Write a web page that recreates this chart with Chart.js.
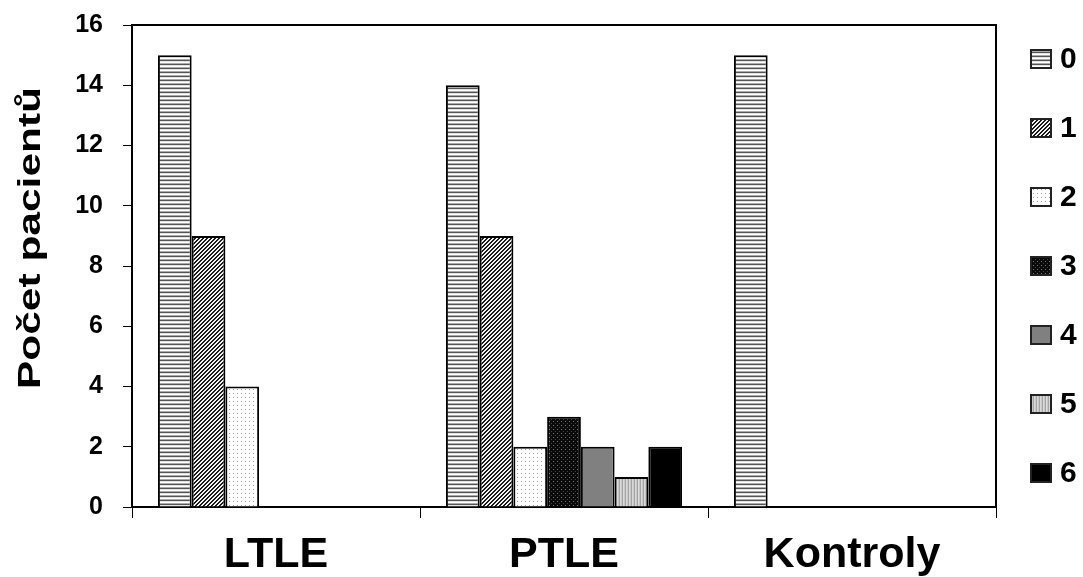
<!DOCTYPE html>
<html>
<head>
<meta charset="utf-8">
<script src="https://cdn.jsdelivr.net/npm/chart.js@4"></script>
<style>
  body { margin: 0; background: #fff; }
  #wrap { width: 1083px; height: 577px; }
</style>
</head>
<body>
<div id="wrap"><canvas id="graf"></canvas></div>
<script>
// Data
const kategorie = ['LTLE', 'PTLE', 'Kontroly'];
const skupiny = ['0', '1', '2', '3', '4', '5', '6'];
const hodnoty0 = [15, 14, 15];
const hodnoty1 = [9, 9, 0];
const hodnoty2 = [4, 2, 0];
const hodnoty3 = [0, 3, 0];
const hodnoty4 = [0, 2, 0];
const hodnoty5 = [0, 1, 0];
const hodnoty6 = [0, 2, 0];
const yTicks = [0, 2, 4, 6, 8, 10, 12, 14, 16];
const osaY = 'Počet pacientů';

const FONT = "Arial, 'Liberation Sans', sans-serif";

// Vytvori vzor (pattern) z malych pixelu
function vzor(w, h, fn) {
    const c = document.createElement('canvas');
    c.width = w; c.height = h;
    const g = c.getContext('2d');
    for (let y = 0; y < h; y++) {
        for (let x = 0; x < w; x++) {
            g.fillStyle = fn(x, y);
            g.fillRect(x, y, 1, 1);
        }
    }
    return g.createPattern(c, 'repeat');
}

const ctx = document.getElementById('graf').getContext('2d');

const vzory = [
    vzor(4, 4, (x, y) => ['#555', '#e4e4e4', '#fff', '#aaa'][y]),          // vodorovne cary
    vzor(4, 4, (x, y) => ((x + y) % 4 < 2 ? '#1a1a1a' : '#f4f4f4')),      // sikme cary
    vzor(4, 4, (x, y) => (x === 1 && y === 1 ? '#999' : '#fff')),         // tecky
    vzor(4, 4, (x, y) => (x === 1 && y === 1 ? '#777' : (x === 3 && y === 3 ? '#444' : '#0a0a0a'))),
    '#808080',
    vzor(3, 1, (x) => ['#c8c8c8', '#a4a4a4', '#dadada'][x]),              // svisle cary
    '#000000'
];

const vsechnyHodnoty = [hodnoty0, hodnoty1, hodnoty2, hodnoty3, hodnoty4, hodnoty5, hodnoty6];

const datasets = skupiny.map((s, i) => ({
    label: s,
    data: vsechnyHodnoty[i],
    backgroundColor: vzory[i],
    borderColor: '#000',
    borderWidth: 2,
    barPercentage: 1.0,
    categoryPercentage: 0.82
}));

// Ramecek kolem grafu (horni a prava hrana)
const ramecek = {
    id: 'ramecek',
    afterDatasetsDraw(chart) {
        const a = chart.chartArea;
        const c = chart.ctx;
        c.save();
        c.strokeStyle = '#000';
        c.lineWidth = 2;
        c.beginPath();
        c.moveTo(a.left, a.top);
        c.lineTo(a.right, a.top);
        c.lineTo(a.right, a.bottom);
        c.stroke();
        c.restore();
    }
};

// Legenda vpravo + popisek osy Y
const legenda = {
    id: 'legenda',
    afterDraw(chart) {
        const c = chart.ctx;
        c.save();
        chart.data.datasets.forEach((ds, i) => {
            const y = 59 + i * 69;
            c.fillStyle = ds.backgroundColor;
            c.fillRect(1031, y - 9, 20, 18);
            c.strokeStyle = '#222';
            c.lineWidth = 2;
            c.strokeRect(1031, y - 9, 20, 18);
            c.fillStyle = '#000';
            c.font = 'bold 30px ' + FONT;
            c.textBaseline = 'middle';
            c.textAlign = 'left';
            c.fillText(ds.label, 1060, y + 1);
        });
        c.restore();

        // popisek osy Y - v originale je natazeny
        c.save();
        c.font = 'bold 32px ' + FONT;
        const w = c.measureText(osaY).width;
        c.translate(31, 238);
        c.rotate(-Math.PI / 2);
        c.scale(302 / w, 1);
        c.fillStyle = '#000';
        c.textAlign = 'center';
        c.textBaseline = 'middle';
        c.fillText(osaY, 0, 0);
        c.restore();
    }
};

new Chart(ctx, {
    type: 'bar',
    data: {
        labels: kategorie,
        datasets: datasets
    },
    options: {
        responsive: true,
        maintainAspectRatio: false,
        animation: false,
        layout: { padding: { top: 25, right: 87, left: 0, bottom: 0 } },
        plugins: {
            legend: { display: false },
            tooltip: { enabled: false }
        },
        scales: {
            x: {
                grid: { offset: true, drawOnChartArea: false, tickLength: 11, color: '#000', lineWidth: 1 },
                border: { color: '#000', width: 2 },
                ticks: { color: '#000', font: { family: FONT, size: 43, weight: 'bold' }, padding: 11 },
                afterFit(scale) { scale.height = 70; }
            },
            y: {
                min: 0,
                max: 16,
                afterBuildTicks(scale) { scale.ticks = yTicks.map(v => ({ value: v })); },
                grid: { drawOnChartArea: false, tickLength: 9, color: '#000', lineWidth: 1 },
                border: { color: '#000', width: 2 },
                ticks: { color: '#000', font: { family: FONT, size: 25, weight: 'bold' }, padding: 20 },
                afterFit(scale) {
                    scale.width = 132;
                    scale.paddingTop = 0;
                    scale.paddingBottom = 0;
                }
            }
        }
    },
    plugins: [ramecek, legenda]
});
</script>
</body>
</html>
